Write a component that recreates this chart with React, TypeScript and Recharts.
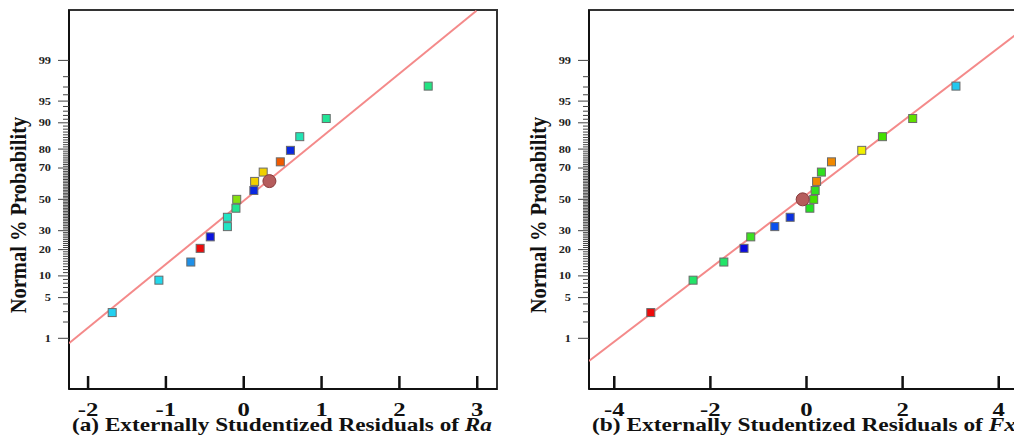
import React from 'react';
import {
  ScatterChart,
  Scatter,
  XAxis,
  YAxis,
  ReferenceArea,
} from 'recharts';

// Normal % probability plots of externally studentized residuals (17 runs)

const pctLabels = [1, 5, 10, 20, 30, 50, 70, 80, 90, 95, 99];
const pctMinor = Array.from({ length: 99 }, (_, i) => i + 1);

// (a) Ra
const probA = [2.9, 8.8, 14.7, 20.6, 26.5, 32.4, 38.2, 44.1, 50, 55.9, 61.8, 67.6, 73.5, 79.4, 85.3, 91.2, 97.1];
const residA = [-1.69, -1.09, -0.68, -0.56, -0.43, -0.21, -0.21, -0.1, -0.09, 0.13, 0.14, 0.25, 0.47, 0.6, 0.72, 1.06, 2.37];
const colorsA = [
  '#22d0f0', '#22d8ec', '#1e90e8', '#ee0a0a', '#0a14e0', '#22e4c4', '#22e4c4', '#22e492',
  '#86e010', '#0a28e0', '#f0d000', '#f0d000', '#f05a00', '#0a28e0', '#22e4b4', '#22e496', '#22e482',
];
const markA = { resid: 0.33, prob: 62 };
const fitResidA = [-2.245, 2.99];
const fitProbA = [0.8, 99.92];
const ticksA = [-2, -1, 0, 1, 2, 3];

// (b) Fx
const probB = [2.9, 8.8, 14.7, 20.6, 26.5, 32.4, 38.2, 44.1, 50, 55.9, 61.8, 67.6, 73.5, 79.4, 85.3, 91.2, 97.1];
const residB = [-3.24, -2.36, -1.72, -1.3, -1.16, -0.66, -0.34, 0.07, 0.15, 0.18, 0.21, 0.31, 0.52, 1.15, 1.58, 2.21, 3.11];
const colorsB = [
  '#ee0a0a', '#22e468', '#22e468', '#0a0ae0', '#3ee020', '#0a50f0', '#0a30e0', '#22e422',
  '#44e000', '#30e020', '#f08800', '#30e020', '#f08800', '#f0f000', '#44e000', '#60e000', '#22c8f0',
];
const markB = { resid: -0.08, prob: 50 };
const fitResidB = [-4.526, 4.526];
const fitProbB = [0.34, 99.79];
const ticksB = [-4, -2, 0, 2, 4];

// inverse standard normal CDF (Acklam)
function probit(p: number): number {
  const a = [-39.69683028665376, 220.9460984245205, -275.9285104469687, 138.357751867269, -30.66479806614716, 2.506628274631];
  const b = [-54.47609879822406, 161.5858368580409, -155.6989798598866, 66.80131188771972, -13.28068155211177];
  const c = [-0.007784894002430293, -0.3223964580411365, -2.400758277161838, -2.549732539343734, 4.374664141464968, 2.938163982698783];
  const d = [0.007784695709041462, 0.3224671290700398, 2.445134137142996, 3.754408661907416];
  const plow = 0.02425;
  if (p < plow) {
    const q = Math.sqrt(-2 * Math.log(p));
    return (((((c[0] * q + c[1]) * q + c[2]) * q + c[3]) * q + c[4]) * q + c[5]) /
      ((((d[0] * q + d[1]) * q + d[2]) * q + d[3]) * q + 1);
  }
  if (p > 1 - plow) {
    const q = Math.sqrt(-2 * Math.log(1 - p));
    return -(((((c[0] * q + c[1]) * q + c[2]) * q + c[3]) * q + c[4]) * q + c[5]) /
      ((((d[0] * q + d[1]) * q + d[2]) * q + d[3]) * q + 1);
  }
  const q = p - 0.5;
  const r = q * q;
  return (((((a[0] * r + a[1]) * r + a[2]) * r + a[3]) * r + a[4]) * r + a[5]) * q /
    (((((b[0] * r + b[1]) * r + b[2]) * r + b[3]) * r + b[4]) * r + 1);
}

const z = (pct: number) => probit(pct / 100);
const FONT = '"Liberation Serif", "Times New Roman", serif';
const LINE = '#f48a8a';
const WIDE = 1.3; // text in this figure is drawn somewhat wide

const yTicks = pctMinor.map(z);
const labelAt = new Map(pctLabels.map((p) => [z(p).toFixed(6), p]));

function YTick(props: any) {
  const { x, y, payload } = props;
  const lab = labelAt.get(Number(payload.value).toFixed(6));
  const len = lab !== undefined ? 11 : 6;
  return (
    <g>
      <line x1={x} x2={x - len} y1={y} y2={y} stroke="#444" strokeWidth={1} />
      {lab !== undefined && (
        <text
          transform={`translate(${x - 18} ${y}) scale(${WIDE} 1)`}
          textAnchor="end"
          dominantBaseline="central"
          fontFamily={FONT}
          fontWeight="bold"
          fontSize={9.5}
          fill="#222"
        >
          {lab}
        </text>
      )}
    </g>
  );
}

function XTick(props: any) {
  const { x, y, payload } = props;
  return (
    <g>
      <line x1={x} x2={x} y1={y - 1} y2={y - 13} stroke="#111" strokeWidth={2.5} />
      <text
        transform={`translate(${x} ${y + 27}) scale(${WIDE} 1)`}
        textAnchor="middle"
        fontFamily={FONT}
        fontWeight="bold"
        fontSize={19}
        fill="#111"
      >
        {payload.value}
      </text>
    </g>
  );
}

const square = (props: any) => (
  <rect
    x={props.cx - 4}
    y={props.cy - 4}
    width={8}
    height={8}
    fill={props.payload.color}
    stroke="#6a6a6a"
    strokeWidth={1}
  />
);

const dot = (props: any) => (
  <circle cx={props.cx} cy={props.cy} r={6.5} fill="#b55c5c" stroke="#8a3c3c" strokeWidth={1} />
);

interface PanelProps {
  resid: number[];
  prob: number[];
  colors: string[];
  mark: { resid: number; prob: number };
  fitResid: number[];
  fitProb: number[];
  xDomain: [number, number];
  xTicks: number[];
  tag: string;
  response: string;
  width: number;
  left: number;
  titleCenter: number;
  titleWidth: number;
}

function ProbPanel(p: PanelProps) {
  const pts = p.resid.map((r, i) => ({ x: r, z: z(p.prob[i]), color: p.colors[i] }));
  const fit = p.fitResid.map((r, i) => ({ x: r, z: z(p.fitProb[i]) }));
  const mark = [{ x: p.mark.resid, z: z(p.mark.prob) }];
  const yDomain: [number, number] = [-3.175, 3.17];

  return (
    <div style={{ position: 'absolute', left: p.left, top: 0 }}>
      <ScatterChart width={p.width} height={442} margin={{ top: 10, right: 3, bottom: 0, left: 0 }}>
        <ReferenceArea
          x1={p.xDomain[0]}
          x2={p.xDomain[1]}
          y1={yDomain[0]}
          y2={yDomain[1]}
          fill="none"
          stroke="#333"
          strokeWidth={2}
          ifOverflow="visible"
        />
        <XAxis
          type="number"
          dataKey="x"
          domain={p.xDomain}
          ticks={p.xTicks}
          interval={0}
          allowDataOverflow
          height={53}
          tickSize={0}
          tickMargin={0}
          tickLine={false}
          tick={<XTick />}
          axisLine={{ stroke: '#111', strokeWidth: 2 }}
          label={{
            content: (lp: any) => {
              const vb = lp.viewBox;
              return (
                <text
                  x={p.titleCenter}
                  y={vb.y + 42}
                  textAnchor="middle"
                  textLength={p.titleWidth}
                  lengthAdjust="spacingAndGlyphs"
                  fontFamily={FONT}
                  fontWeight="bold"
                  fontSize={19}
                  fill="#111"
                >
                  {`(${p.tag}) Externally Studentized Residuals of `}
                  <tspan fontStyle="italic">{p.response}</tspan>
                </text>
              );
            },
          }}
        />
        <YAxis
          type="number"
          dataKey="z"
          domain={yDomain}
          ticks={yTicks}
          interval={0}
          allowDataOverflow
          width={69}
          tickSize={0}
          tickMargin={0}
          tickLine={false}
          tick={<YTick />}
          axisLine={{ stroke: '#111', strokeWidth: 2 }}
          label={{
            content: (lp: any) => {
              const vb = lp.viewBox;
              const cx = vb.x + 18;
              const cy = 215;
              return (
                <text
                  transform={`translate(${cx} ${cy}) rotate(-90) scale(1 1.15)`}
                  textAnchor="middle"
                  dominantBaseline="central"
                  fontFamily={FONT}
                  fontWeight="bold"
                  fontSize={20.5}
                  fill="#111"
                >
                  Normal % Probability
                </text>
              );
            },
          }}
        />
        <Scatter data={fit} line={{ stroke: LINE, strokeWidth: 2 }} shape={() => <g />} isAnimationActive={false} />
        <Scatter data={pts} shape={square} isAnimationActive={false} />
        <Scatter data={mark} shape={dot} isAnimationActive={false} />
      </ScatterChart>
    </div>
  );
}

export default function App() {
  return (
    <div style={{ position: 'absolute', left: 0, top: 0, width: 1014, height: 442, overflow: 'hidden', background: '#fff' }}>
      <ProbPanel
        resid={residA}
        prob={probA}
        colors={colorsA}
        mark={markA}
        fitResid={fitResidA}
        fitProb={fitProbA}
        xDomain={[-2.245, 3.254]}
        xTicks={ticksA}
        tag="a"
        response="Ra"
        width={500}
        left={0}
        titleCenter={282}
        titleWidth={420}
      />
      <ProbPanel
        resid={residB}
        prob={probB}
        colors={colorsB}
        mark={markB}
        fitResid={fitResidB}
        fitProb={fitProbB}
        xDomain={[-4.526, 4.526]}
        xTicks={ticksB}
        tag="b"
        response="Fx"
        width={507}
        left={520}
        titleCenter={72 + 212}
        titleWidth={424}
      />
    </div>
  );
}
